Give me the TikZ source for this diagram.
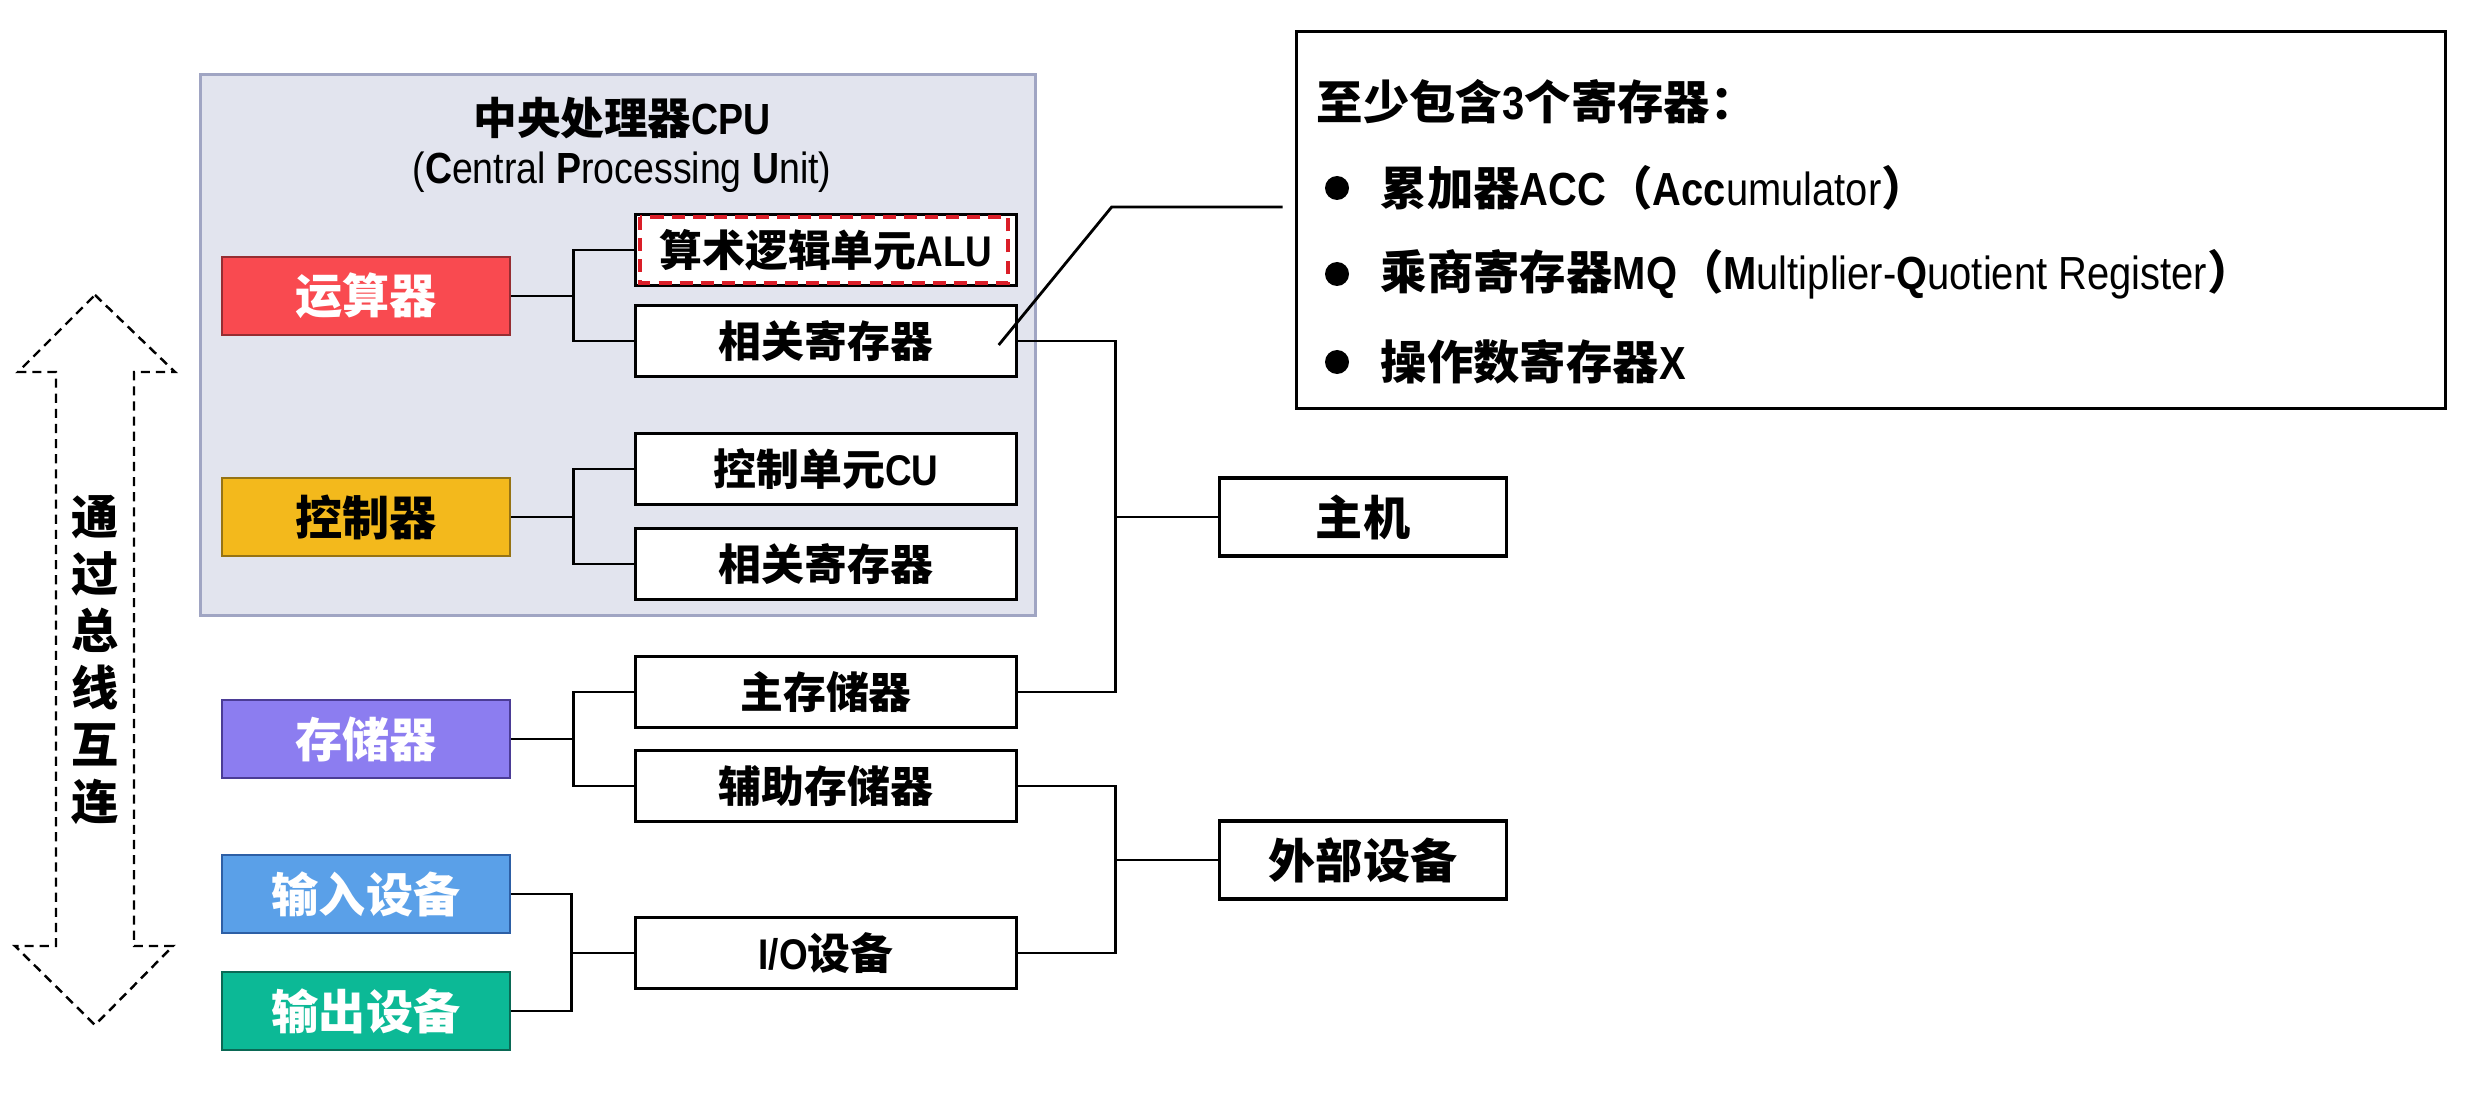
\documentclass[tikz,border=0pt]{standalone}
\usepackage{fontspec}
\setmainfont{Noto Sans CJK SC}
\newfontfamily\nar{Liberation Sans}[FakeStretch=0.86]
\usetikzlibrary{calc}
\definecolor{ysred}{RGB}{249,74,80}
\definecolor{ysredd}{RGB}{150,45,50}
\definecolor{kzyel}{RGB}{243,185,28}
\definecolor{kzyeld}{RGB}{150,115,20}
\definecolor{ccpur}{RGB}{140,125,240}
\definecolor{ccpurd}{RGB}{75,60,150}
\definecolor{srblu}{RGB}{90,160,232}
\definecolor{srblud}{RGB}{45,95,165}
\definecolor{scgrn}{RGB}{12,185,150}
\definecolor{scgrnd}{RGB}{10,105,85}
\definecolor{cpubg}{RGB}{226,228,238}
\definecolor{cpubd}{RGB}{160,165,195}
\definecolor{alured}{RGB}{218,30,40}
\tikzstyle{unit} = [rectangle, minimum width=2.88cm, minimum height=0.78cm, text centered, line width=0.8pt, text=white, font=\fontsize{13.4}{16}\selectfont\bfseries]
\tikzstyle{part} = [rectangle, minimum width=3.8cm, minimum height=0.71cm, text centered, draw=black, line width=0.9pt, fill=white, font=\fontsize{12.2}{15}\selectfont\bfseries]
\tikzstyle{whole} = [rectangle, minimum width=2.87cm, minimum height=0.78cm, text centered, draw=black, line width=0.9pt, fill=white, font=\fontsize{13.4}{16}\selectfont\bfseries]
\tikzstyle{link} = [line width=0.8pt]
\tikzstyle{line} = [anchor=west, inner sep=0pt, font=\fontsize{13.2}{16}\selectfont\bfseries]

\begin{document}
\begin{tikzpicture}[x=0.01cm, y=-0.01cm]
        \useasboundingbox (0,0) rectangle (2490,1094);
        \node[rectangle, draw=cpubd, fill=cpubg, line width=0.8pt, minimum width=8.34cm, minimum height=5.4cm] (cpu) at (618,345) {};
        \node[font=\fontsize{12.4}{15}\selectfont\bfseries] (cpu1) at (622,118) {中央处理器{\nar CPU}};
        \node[font=\fontsize{12.4}{15}\selectfont] (cpu2) at (622,172) {\nar(\textbf{C}entral \textbf{P}rocessing \textbf{U}nit)};

        \node[unit, fill=ysred, draw=ysredd] (A) at (366,296) {运算器};
        \node[unit, fill=kzyel, draw=kzyeld, text=black] (B) at (366,517) {控制器};
        \node[unit, fill=ccpur, draw=ccpurd] (C) at (366,739) {存储器};
        \node[unit, fill=srblu, draw=srblud] (D) at (366,894) {输入设备};
        \node[unit, fill=scgrn, draw=scgrnd] (E) at (366,1011) {输出设备};

        \node[part] (A1) at (826,250) {算术逻辑单元{\nar ALU}};
        \node[part] (A2) at (826,341) {相关寄存器};
        \node[part] (B1) at (826,469) {控制单元{\nar CU}};
        \node[part] (B2) at (826,564) {相关寄存器};
        \node[part] (C1) at (826,692) {主存储器};
        \node[part] (C2) at (826,786) {辅助存储器};
        \node[part] (F) at (826,953) {{\nar I/O}设备};
        \draw[alured, line width=1.1pt, dash pattern=on 3.7pt off 2.3pt] ($(A1.north west)+(6,4)$) rectangle ($(A1.south east)+(-10,-4)$);

        \node[whole] (H) at (1363,517) {主机};
        \node[whole] (W) at (1363,860) {外部设备};

        \node[rectangle, draw=black, line width=0.9pt, minimum width=11.49cm, minimum height=3.76cm] (note) at (1871,220) {};
        \node[line] (n0) at (1316,102) {至少包含{\nar 3}个寄存器：};
        \node[line] (n1) at (1380,188) {累加器{\nar ACC}（{\nar Acc\mdseries umulator}）};
        \node[line] (n2) at (1380,274) {乘商寄存器{\nar MQ}（{\nar M\mdseries ultiplier-\bfseries Q\mdseries uotient Register}）};
        \node[line] (n3) at (1380,362) {操作数寄存器{\nar X}};
        \foreach \y in {188,274,362}
            \fill (1337,\y) circle (12);

        \draw[line width=0.7pt, dash pattern=on 2.6pt off 1.7pt] (95,295) -- (175,372) -- (134,372) -- (134,946) -- (173,946) -- (95,1025) -- (15,946) -- (56,946) -- (56,372) -- (18,372) -- cycle;
        \node[align=center, font=\fontsize{13.4}{16.2}\selectfont\bfseries] (bus) at (95,660) {通\\过\\总\\线\\互\\连};

        \begin{scope}[link]
            \draw (A.east) -- ++(62,0) coordinate (a);
            \draw (A1.west) -| (a) |- (A2.west);
            \draw (B.east) -- ++(62,0) coordinate (b);
            \draw (B1.west) -| (b) |- (B2.west);
            \draw (C.east) -- ++(62,0) coordinate (c);
            \draw (C1.west) -| (c) |- (C2.west);
            \draw (F.west) -- ++(-63,0) coordinate (f);
            \draw (D.east) -| (f) |- (E.east);
            \draw (H.west) -- ++(-102,0) coordinate (h);
            \draw (A2.east) -| (h) |- (C1.east);
            \draw (W.west) -- ++(-102,0) coordinate (w);
            \draw (C2.east) -| (w) |- (F.east);
            \draw ($(A2.east)+(-19,4)$) -- ++(113,-138) -- ($(note.west)+(-12,-13)$);
        \end{scope}
    \end{tikzpicture}
\end{document}
